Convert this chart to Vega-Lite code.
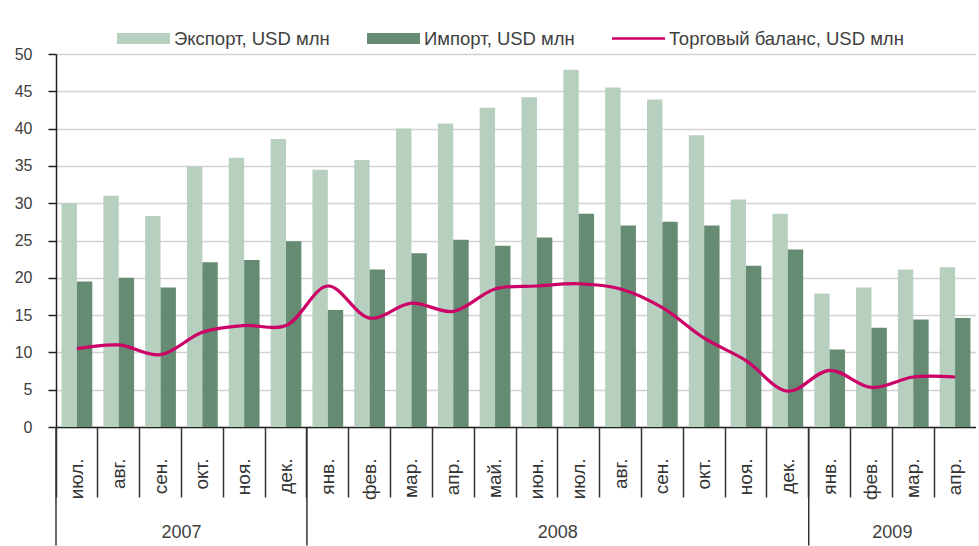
{
  "$schema": "https://vega.github.io/schema/vega-lite/v6.json",
  "width": 920,
  "height": 373,
  "padding": {"left": 14, "top": 12, "right": 0, "bottom": 0},
  "background": "#ffffff",
  "config": {
    "view": {"stroke": null},
    "axisX": {
      "title": null,
      "bandPosition": 0,
      "labelAngle": -90,
      "labelPadding": -39,
      "labelFont": "Liberation Sans",
      "labelFontSize": 19,
      "labelColor": "#333333",
      "labelBound": false,
      "labelOverlap": false,
      "tickSize": 70,
      "tickColor": "#333333",
      "tickWidth": 1.5,
      "domainColor": "#222222",
      "domainWidth": 1.5,
      "grid": false
    },
    "axisY": {
      "title": null,
      "tickCount": 11,
      "labelOverlap": false,
      "grid": true,
      "gridColor": "#D2D2D2",
      "gridWidth": 1.5,
      "domainColor": "#222222",
      "domainWidth": 1.5,
      "tickColor": "#222222",
      "tickSize": 8,
      "tickWidth": 1.5,
      "labelPadding": 16,
      "labelFont": "Liberation Sans",
      "labelFontSize": 16,
      "labelColor": "#404040"
    }
  },
  "datasets": {
    "trade": [
      {"period": "июл. 2007", "series": "Экспорт, USD млн", "value": 30.0},
      {"period": "авг. 2007", "series": "Экспорт, USD млн", "value": 31.0},
      {"period": "сен. 2007", "series": "Экспорт, USD млн", "value": 28.3},
      {"period": "окт. 2007", "series": "Экспорт, USD млн", "value": 34.9},
      {"period": "ноя. 2007", "series": "Экспорт, USD млн", "value": 36.1},
      {"period": "дек. 2007", "series": "Экспорт, USD млн", "value": 38.6},
      {"period": "янв. 2008", "series": "Экспорт, USD млн", "value": 34.5},
      {"period": "фев. 2008", "series": "Экспорт, USD млн", "value": 35.8},
      {"period": "мар. 2008", "series": "Экспорт, USD млн", "value": 40.0},
      {"period": "апр. 2008", "series": "Экспорт, USD млн", "value": 40.7},
      {"period": "май. 2008", "series": "Экспорт, USD млн", "value": 42.8},
      {"period": "июн. 2008", "series": "Экспорт, USD млн", "value": 44.2},
      {"period": "июл. 2008", "series": "Экспорт, USD млн", "value": 47.9},
      {"period": "авг. 2008", "series": "Экспорт, USD млн", "value": 45.5},
      {"period": "сен. 2008", "series": "Экспорт, USD млн", "value": 43.9},
      {"period": "окт. 2008", "series": "Экспорт, USD млн", "value": 39.1},
      {"period": "ноя. 2008", "series": "Экспорт, USD млн", "value": 30.5},
      {"period": "дек. 2008", "series": "Экспорт, USD млн", "value": 28.6},
      {"period": "янв. 2009", "series": "Экспорт, USD млн", "value": 17.9},
      {"period": "фев. 2009", "series": "Экспорт, USD млн", "value": 18.7},
      {"period": "мар. 2009", "series": "Экспорт, USD млн", "value": 21.1},
      {"period": "апр. 2009", "series": "Экспорт, USD млн", "value": 21.4},
      {"period": "июл. 2007", "series": "Импорт, USD млн", "value": 19.5},
      {"period": "авг. 2007", "series": "Импорт, USD млн", "value": 20.0},
      {"period": "сен. 2007", "series": "Импорт, USD млн", "value": 18.7},
      {"period": "окт. 2007", "series": "Импорт, USD млн", "value": 22.1},
      {"period": "ноя. 2007", "series": "Импорт, USD млн", "value": 22.4},
      {"period": "дек. 2007", "series": "Импорт, USD млн", "value": 24.9},
      {"period": "янв. 2008", "series": "Импорт, USD млн", "value": 15.7},
      {"period": "фев. 2008", "series": "Импорт, USD млн", "value": 21.1},
      {"period": "мар. 2008", "series": "Импорт, USD млн", "value": 23.3},
      {"period": "апр. 2008", "series": "Импорт, USD млн", "value": 25.1},
      {"period": "май. 2008", "series": "Импорт, USD млн", "value": 24.3},
      {"period": "июн. 2008", "series": "Импорт, USD млн", "value": 25.4},
      {"period": "июл. 2008", "series": "Импорт, USD млн", "value": 28.6},
      {"period": "авг. 2008", "series": "Импорт, USD млн", "value": 27.0},
      {"period": "сен. 2008", "series": "Импорт, USD млн", "value": 27.5},
      {"period": "окт. 2008", "series": "Импорт, USD млн", "value": 27.0},
      {"period": "ноя. 2008", "series": "Импорт, USD млн", "value": 21.6},
      {"period": "дек. 2008", "series": "Импорт, USD млн", "value": 23.8},
      {"period": "янв. 2009", "series": "Импорт, USD млн", "value": 10.4},
      {"period": "фев. 2009", "series": "Импорт, USD млн", "value": 13.3},
      {"period": "мар. 2009", "series": "Импорт, USD млн", "value": 14.4},
      {"period": "апр. 2009", "series": "Импорт, USD млн", "value": 14.6},
      {"period": "июл. 2007", "series": "Торговый баланс, USD млн", "value": 10.5},
      {"period": "авг. 2007", "series": "Торговый баланс, USD млн", "value": 11.0},
      {"period": "сен. 2007", "series": "Торговый баланс, USD млн", "value": 9.7},
      {"period": "окт. 2007", "series": "Торговый баланс, USD млн", "value": 12.7},
      {"period": "ноя. 2007", "series": "Торговый баланс, USD млн", "value": 13.6},
      {"period": "дек. 2007", "series": "Торговый баланс, USD млн", "value": 13.6},
      {"period": "янв. 2008", "series": "Торговый баланс, USD млн", "value": 18.9},
      {"period": "фев. 2008", "series": "Торговый баланс, USD млн", "value": 14.6},
      {"period": "мар. 2008", "series": "Торговый баланс, USD млн", "value": 16.6},
      {"period": "апр. 2008", "series": "Торговый баланс, USD млн", "value": 15.5},
      {"period": "май. 2008", "series": "Торговый баланс, USD млн", "value": 18.5},
      {"period": "июн. 2008", "series": "Торговый баланс, USD млн", "value": 18.9},
      {"period": "июл. 2008", "series": "Торговый баланс, USD млн", "value": 19.2},
      {"period": "авг. 2008", "series": "Торговый баланс, USD млн", "value": 18.5},
      {"period": "сен. 2008", "series": "Торговый баланс, USD млн", "value": 16.0},
      {"period": "окт. 2008", "series": "Торговый баланс, USD млн", "value": 11.9},
      {"period": "ноя. 2008", "series": "Торговый баланс, USD млн", "value": 8.9},
      {"period": "дек. 2008", "series": "Торговый баланс, USD млн", "value": 4.8},
      {"period": "янв. 2009", "series": "Торговый баланс, USD млн", "value": 7.6},
      {"period": "фев. 2009", "series": "Торговый баланс, USD млн", "value": 5.3},
      {"period": "мар. 2009", "series": "Торговый баланс, USD млн", "value": 6.7},
      {"period": "апр. 2009", "series": "Торговый баланс, USD млн", "value": 6.7}
    ],
    "years": [
      {"year": "2007", "start": "июл. 2007", "mid": "окт. 2007"},
      {"year": "2008", "start": "янв. 2008", "mid": "июл. 2008"},
      {"year": "2009", "start": "янв. 2009", "mid": "мар. 2009"}
    ]
  },
  "layer": [
    {
      "data": {"name": "trade"},
      "transform": [{"filter": "datum.series !== 'Торговый баланс, USD млн'"}],
      "mark": {"type": "bar"},
      "encoding": {
        "x": {
          "field": "period", "type": "nominal", "title": null,
          "scale": {
            "domain": ["июл. 2007","авг. 2007","сен. 2007","окт. 2007","ноя. 2007","дек. 2007","янв. 2008","фев. 2008","мар. 2008","апр. 2008","май. 2008","июн. 2008","июл. 2008","авг. 2008","сен. 2008","окт. 2008","ноя. 2008","дек. 2008","янв. 2009","фев. 2009","мар. 2009","апр. 2009"],
            "paddingInner": 0, "paddingOuter": 0
          },
          "axis": {"labelExpr": "split(datum.label, ' ')[0]"}
        },
        "xOffset": {
          "field": "series", "type": "nominal",
          "scale": {"domain": ["Экспорт, USD млн", "Импорт, USD млн"], "paddingInner": 0, "paddingOuter": 0.36}
        },
        "y": {
          "field": "value", "type": "quantitative", "title": null,
          "scale": {"domain": [0, 50], "nice": false},
          "axis": {"values": [0, 5, 10, 15, 20, 25, 30, 35, 40, 45, 50], "tickCount": 11}
        },
        "color": {
          "field": "series", "type": "nominal",
          "scale": {
            "domain": ["Экспорт, USD млн", "Импорт, USD млн", "Торговый баланс, USD млн"],
            "range": ["#B7CFBF", "#658B73", "#CC0066"]
          },
          "legend": {
            "title": null,
            "orient": "none",
            "direction": "horizontal",
            "legendX": 61,
            "legendY": -42,
            "padding": 0,
            "columnPadding": 37,
            "labelOffset": 4,
            "labelFont": "Liberation Sans",
            "labelFontSize": 18.5,
            "labelColor": "#404040",
            "labelLimit": 400,
            "symbolSize": 2809,
            "symbolType": "M-1,-0.2075H1V0.2075H-1Z",
            "encode": {
              "symbols": {
                "update": {
                  "shape": {"signal": "datum.value === 'Торговый баланс, USD млн' ? 'M-1,-0.05H1V0.05H-1Z' : 'M-1,-0.2075H1V0.2075H-1Z'"},
                  "fill": {"signal": "scale('color', datum.value)"},
                  "strokeWidth": {"value": 0},
                  "opacity": {"value": 1}
                }
              }
            }
          }
        }
      }
    },
    {
      "data": {"name": "trade"},
      "transform": [{"filter": "datum.series === 'Торговый баланс, USD млн'"}],
      "mark": {"type": "line", "interpolate": "catmull-rom", "strokeWidth": 3.2},
      "encoding": {
        "x": {"field": "period", "type": "nominal", "title": null, "axis": {"labelExpr": "split(datum.label, ' ')[0]"}},
        "y": {"field": "value", "type": "quantitative", "title": null, "axis": {"values": [0, 5, 10, 15, 20, 25, 30, 35, 40, 45, 50], "tickCount": 11}},
        "color": {"field": "series", "type": "nominal"}
      }
    },
    {
      "data": {"name": "years"},
      "mark": {"type": "rule", "color": "#333333", "strokeWidth": 1.5},
      "encoding": {
        "x": {"field": "start", "type": "nominal", "bandPosition": 0, "title": null, "axis": {"labelExpr": "split(datum.label, ' ')[0]"}},
        "y": {"datum": 0, "type": "quantitative", "axis": {"values": [0, 5, 10, 15, 20, 25, 30, 35, 40, 45, 50], "tickCount": 11}},
        "y2": {"datum": -15.9}
      }
    },
    {
      "data": {"name": "years"},
      "mark": {"type": "text", "font": "Liberation Sans", "fontSize": 18, "color": "#404040", "baseline": "middle", "align": "center"},
      "encoding": {
        "x": {"field": "mid", "type": "nominal", "bandPosition": 0, "title": null, "axis": {"labelExpr": "split(datum.label, ' ')[0]"}},
        "y": {"datum": -14.2, "type": "quantitative", "axis": {"values": [0, 5, 10, 15, 20, 25, 30, 35, 40, 45, 50], "tickCount": 11}},
        "text": {"field": "year"}
      }
    }
  ]
}
